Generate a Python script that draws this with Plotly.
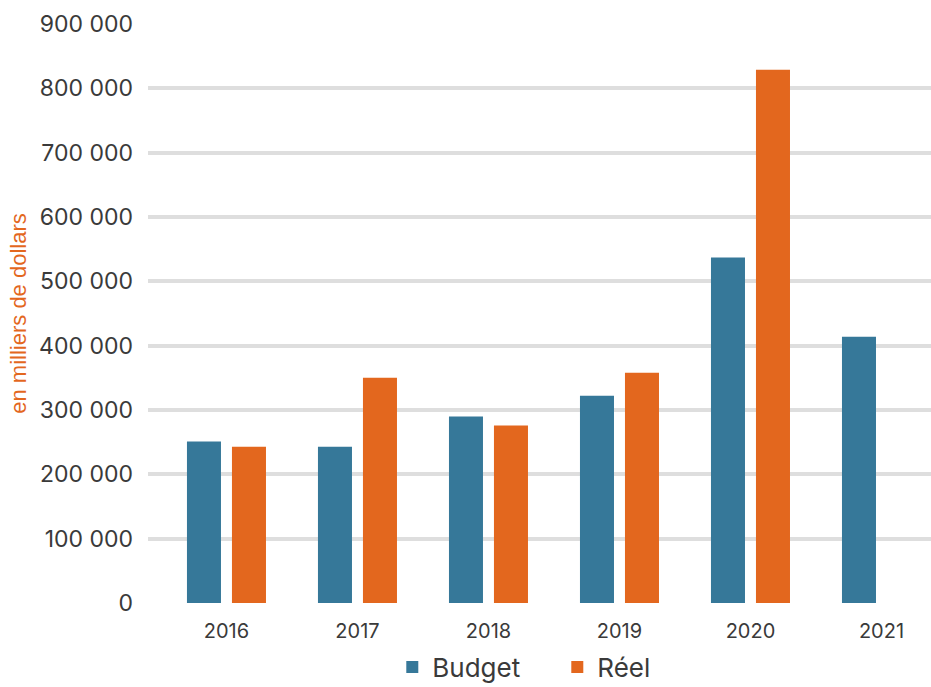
import plotly.graph_objects as go

years = ["2016", "2017", "2018", "2019", "2020", "2021"]
budget = [251000, 243000, 290000, 322000, 537000, 414000]
reel = [243000, 350000, 276000, 358000, 829000, None]
ytick_vals = [0, 100000, 200000, 300000, 400000, 500000, 600000, 700000, 800000, 900000]
ytick_text = ["0", "100 000", "200 000", "300 000", "400 000", "500 000",
              "600 000", "700 000", "800 000", "900 000"]

BLUE = "#367899"
ORANGE = "#E3671E"
TEXT = "#3a3a3a"
FONT = "Inter"

fig = go.Figure()
fig.add_trace(go.Bar(x=list(range(len(years))), y=budget, name="Budget", marker_color=BLUE,
                     marker_line_width=0))
fig.add_trace(go.Bar(x=list(range(len(years))), y=reel, name="Réel", marker_color=ORANGE,
                     marker_line_width=0))

fig.update_layout(
    width=931, height=687,
    margin=dict(l=148, r=0, t=24, b=84, autoexpand=False),
    paper_bgcolor="white", plot_bgcolor="white",
    barmode="group", bargap=0.313, bargroupgap=0.244,
    font=dict(family=FONT, color=TEXT),
    showlegend=True,
    legend=dict(orientation="h", x=0.312, xanchor="left", y=-0.07, yanchor="top",
                font=dict(size=26, color=TEXT), itemwidth=30, traceorder="normal",
                entrywidth=120, entrywidthmode="pixels"),
    xaxis=dict(range=[-0.599, 5.378], tickmode="array", tickvals=list(range(len(years))),
               ticktext=years, showgrid=False, zeroline=False, showline=False,
               tickfont=dict(size=20, color=TEXT), ticks="", ticklabelstandoff=14),
    yaxis=dict(range=[0, 900000], tickmode="array", tickvals=ytick_vals, ticktext=ytick_text,
               showgrid=True, gridcolor="#dedede", gridwidth=4, zeroline=False,
               showline=False, ticks="", tickfont=dict(size=23, color=TEXT),
               ticklabelstandoff=14,
               title=dict(text="en milliers de dollars",
                          font=dict(family="Liberation Sans", size=22, color=ORANGE),
                          standoff=6)),
)

fig.write_html("out.html")
